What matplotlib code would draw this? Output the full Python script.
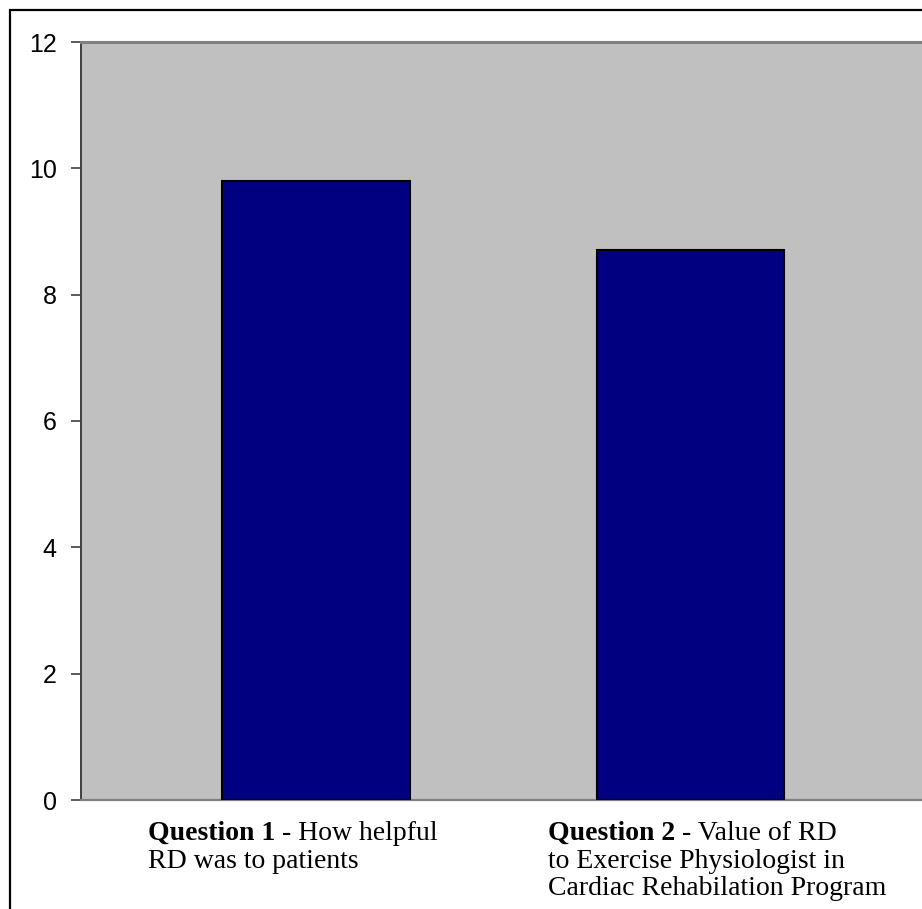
import numpy as np
import matplotlib.pyplot as plt
from matplotlib.patches import Rectangle

# survey scores per question
questions = ["Question 1", "Question 2"]
scores = [9.8, 8.7]
label_heads = [" - How helpful", " - Value of RD"]
label_rest = [["RD was to patients"],
              ["to Exercise Physiologist in", "Cardiac Rehabilation Program"]]
yticks = [0, 2, 4, 6, 8, 10, 12]

W, H, DPI = 922, 909, 100
fig = plt.figure(figsize=(W / DPI, H / DPI), dpi=DPI)
fig.patch.set_facecolor("white")

# outer chart frame (runs off the right and bottom)
fig.patches.append(Rectangle((10 / W, -0.1), 1.2, (H - 10) / H + 0.1,
                             transform=fig.transFigure, fill=False,
                             edgecolor="black", linewidth=1.6))

left, top, bottom = 81, 42, 800
ax = fig.add_axes([left / W, (H - bottom) / H, (W - left) / W, (bottom - top) / H])
ax.set_facecolor("#c0c0c0")

x = np.arange(len(scores))
ax.bar(x, scores, width=0.5, color="#000080", edgecolor="black", linewidth=1.5, zorder=3)

ax.set_xlim(-0.6275, 1.618)
ax.set_ylim(0, 12)
ax.set_yticks(yticks)
ax.set_xticks([])
ax.tick_params(axis="y", direction="out", length=7, width=1.2, color="#404040",
               pad=10.5, labelsize=18, labelcolor="black",
               labelfontfamily="Liberation Sans")

ax.spines["right"].set_visible(False)
ax.spines["top"].set_color("#808080")
ax.spines["top"].set_linewidth(2.2)
ax.spines["bottom"].set_color("#808080")
ax.spines["bottom"].set_linewidth(1.6)
ax.spines["left"].set_color("#404040")
ax.spines["left"].set_linewidth(1.4)

# category labels: bold question number followed by its description
serif = "Liberation Serif"
fs = 20
dx = [-0.449, -0.38]
for i in range(len(questions)):
    head = ax.annotate(questions[i], xy=(x[i] + dx[i], 0), xycoords="data",
                       xytext=(0, -40), textcoords="offset pixels",
                       ha="left", va="baseline", fontsize=fs, fontweight="bold",
                       family=serif, annotation_clip=False)
    ax.annotate(label_heads[i], xy=(1, 0), xycoords=head,
                xytext=(0, 0), textcoords="offset pixels",
                ha="left", va="bottom", fontsize=fs, family=serif)
    for j, line in enumerate(label_rest[i]):
        ax.annotate(line, xy=(x[i] + dx[i], 0), xycoords="data",
                    xytext=(0, -40 - 27.5 * (j + 1)), textcoords="offset pixels",
                    ha="left", va="baseline", fontsize=fs, family=serif,
                    annotation_clip=False)

fig.savefig("out.png", dpi=DPI)
